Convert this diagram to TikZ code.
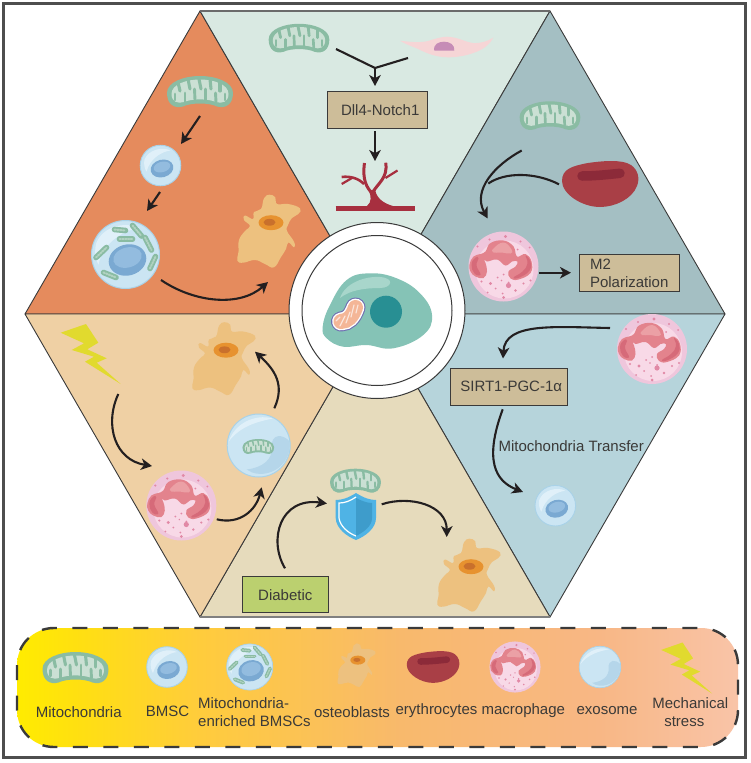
\documentclass[tikz,border=0pt]{standalone}
\usepackage{fontspec}
\setmainfont{Liberation Sans}
\usetikzlibrary{arrows.meta,calc}

\definecolor{inkline}{HTML}{231F20}
\definecolor{edgeline}{HTML}{3A3A3A}
\definecolor{textdark}{HTML}{3B3A38}
\definecolor{mitodark}{HTML}{8ABCA3}
\definecolor{mitopale}{HTML}{CBE0D4}
\definecolor{boxtan}{HTML}{CDBD99}
\definecolor{diabeticgreen}{HTML}{BBD06F}
\definecolor{bandA}{HTML}{FFEC00}
\definecolor{bandB}{HTML}{FFE010}
\definecolor{bandC}{HTML}{FFCC3C}
\definecolor{bandD}{HTML}{F8B96C}
\definecolor{bandE}{HTML}{F8B785}
\definecolor{bandF}{HTML}{F9C4A8}

\pgfdeclarehorizontalshading{legendband}{100bp}{
  color(0bp)=(bandA); color(25bp)=(bandA); color(29bp)=(bandB);
  color(37.7bp)=(bandC); color(51.6bp)=(bandD); color(65.4bp)=(bandE);
  color(75bp)=(bandF); color(100bp)=(bandF)}

\tikzset{
  x=1pt, y=-1pt,
  flow/.style={draw=inkline, line width=2.1pt,
    -{Stealth[length=11pt,width=11.5pt,inset=3.2pt]}},
  stem/.style={draw=inkline, line width=2.1pt},
  panel/.style={draw=edgeline, line width=0.9pt},
  labelbox/.style={draw=edgeline, line width=1pt, fill=boxtan, inner sep=0pt,
    text=textdark, font=\fontsize{15}{18}\selectfont},
  caption/.style={text=textdark, inner sep=0pt, align=center,
    font=\fontsize{15}{18}\selectfont},
  pics/mito/.style={code={
    \begin{scope}[scale=#1]
      \fill[mitodark] (-33,1) .. controls (-33,-10) and (-16,-16) .. (0,-16)
        .. controls (16,-16) and (33,-10) .. (33,1)
        .. controls (33,12) and (26,17) .. (17,14.5)
        .. controls (9,10.5) and (-9,10.5) .. (-17,14.5)
        .. controls (-26,17) and (-33,12) .. (-33,1) -- cycle;
      \fill[mitopale] (-28.5,2) .. controls (-28.5,-8) and (-13,-12.5) .. (0,-12.5)
        .. controls (13,-12.5) and (28.5,-8) .. (28.5,2)
        .. controls (28.5,10) and (22,12) .. (16,10)
        .. controls (8,6.5) and (-8,6.5) .. (-16,10)
        .. controls (-22,12) and (-28.5,10) .. (-28.5,2) -- cycle;
      % cristae folding in from both walls
      \foreach \ax/\ay/\bx/\by in {-22/-10/-20/-1, -12/-13/-10/-3, -1/-13/1/-3,
          10/-13/11/-3, 20/-10/20/-1}
        \draw[mitodark, line width=#1*3.1pt, line cap=round] (\ax,\ay) -- (\bx,\by);
      \foreach \ax/\ay/\bx/\by in {-25/8/-25/2, -15/10/-15/1, -5/8/-5.5/-3,
          5.5/8/5.5/-3, 16/10/15.5/1, 25/8/25/2}
        \draw[mitodark, line width=#1*2.9pt, line cap=round] (\ax,\ay) -- (\bx,\by);
    \end{scope}}},
  pics/bmsc/.style={code={
    \begin{scope}[scale=#1]
      \fill[color=bmscbase] (0,0) circle (20.3);
      \draw[color=bmscrim, line width=#1*.9pt] (0,0) circle (20.3);
      \fill[color=bmscpale] (-16,-6) .. controls (-12,-16) and (2,-19) .. (10,-15)
        .. controls (2,-14) and (-10,-8) .. (-14,6)
        .. controls (-16,3) and (-17,-2) .. (-16,-6) -- cycle;
      \fill[color=nucleusblue, rotate around={15:(1.5,3)}]
        (1.5,3) ellipse (11.5 and 8.8);
      \fill[color=nucleuslight, rotate around={15:(1.5,1.5)}]
        (1.5,1.5) ellipse (8.5 and 5.2);
    \end{scope}}},
  pics/richbmsc/.style={code={
    \begin{scope}[scale=#1]
      \fill[color=bmscbase] (0,0) circle (34);
      \draw[color=bmscrim, line width=#1*1pt] (0,0) circle (34);
      \fill[color=bmscpale] (-29,-12) .. controls (-22,-28) and (-2,-33) .. (14,-27)
        .. controls (0,-24) and (-22,-14) .. (-27,10)
        .. controls (-31,4) and (-31,-6) .. (-29,-12) -- cycle;
      \fill[color=nucleusblue, rotate around={15:(2,5.5)}]
        (2,5.5) ellipse (19 and 15.5);
      \fill[color=nucleuslight, rotate around={15:(2,3)}]
        (2,3) ellipse (14.5 and 10);
      \foreach \ax/\ay/\bx/\by in {-11/-25/0/-24, 7/-29/16/-18.5, -6/-15.5/7/-15.5,
          19.5/-17/26/-4.5, -29.5/3/-19/-7, 24.5/14/30/2, -22/18/-9.5/23} {
        \draw[mitodark, line width=#1*5.6pt, line cap=round] (\ax,\ay) -- (\bx,\by);
        \draw[mitopale!60!mitodark, line width=#1*2pt, line cap=round,
          dash pattern=on 1.4pt off 1.4pt] (\ax,\ay) -- (\bx,\by);
      }
    \end{scope}}},
  pics/osteo/.style={code={
    \begin{scope}[scale=#1]
      \fill[color=osteobody] plot[smooth cycle, tension=.75] coordinates {
        (1.3,-37.3) (7.3,-34.7) (9,-28) (20.3,-28) (32,-23.7) (30.3,-18)
        (24,-14) (20,-7) (19,-1) (26,9.7) (26,15.3) (20.3,10.5) (18,17)
        (13,25) (6,35.3) (-3,32) (-13,28) (-24.7,30.7) (-30.7,28.7)
        (-29.5,19.7) (-29,8) (-23,-1) (-18,-6) (-24,-12) (-23,-16.5)
        (-15,-13) (-14,-20) (-7,-23) (-4,-33.7)};
      \fill[color=osteonuc] (3,-9.3) ellipse (12.5 and 7.5);
      \fill[color=osteocore] (1.5,-9.7) ellipse (6 and 3.4);
    \end{scope}}},
  pics/rbc/.style={code={
    \begin{scope}[scale=#1]
      \fill[color=rbcbody] (-38,-3) .. controls (-38,-15) and (-28,-18) .. (-12,-21)
        .. controls (2,-23) and (22,-25) .. (31,-19)
        .. controls (38,-14) and (40,-6) .. (37,2)
        .. controls (32,15) and (15,23) .. (0,23)
        .. controls (-18,23) and (-38,10) .. (-38,-3) -- cycle;
      \draw[color=rbccore, line width=#1*9.5pt, line cap=round]
        (-18,-8) .. controls (-5,-8) and (8,-9.5) .. (20,-10.7);
    \end{scope}}},
  pics/macro/.style={code={
    \begin{scope}[scale=#1]
      \fill[color=macrobase] (0,0) circle (35);
      \fill[color=macropale] (1,3) circle (29);
      \fill[color=macronuc] plot[smooth cycle, tension=.7] coordinates {
        (-34,-2) (-30,-10) (-23,-12.5) (-18,-15) (-13,-23.5) (0,-26) (10,-20)
        (13.5,-10) (22,-12.5) (28,-5) (27,6.5) (15,13) (7,12) (5,5) (12,0)
        (14,-5) (8.5,-5) (2,-1) (-6.5,-7) (-16.5,-5) (-20,-8) (-18,-3.5)
        (-16.5,5) (-20,11.5) (-28,10) (-33,5)};
      \fill[color=macrolobe] plot[smooth cycle, tension=.8] coordinates {
        (-32,-2) (-28,-9) (-25,-8) (-27,-1) (-23,8) (-29,7)};
      \fill[color=macrolobe] plot[smooth cycle, tension=.8] coordinates {
        (22,-11) (27,-5) (26,4) (16,11) (10,11) (19,5) (24,-3)};
      \fill[color=macrotop] plot[smooth cycle, tension=.8] coordinates {
        (-10,-18) (0,-24) (8,-17) (7,-13) (-2,-14) (-10,-14)};
      \foreach \dx/\dy/\dr in {2/-30/1.6, -14/-27/1.2, 17/-25/1.2, -26/-20/1.2,
          26/-19/1, -22/15/1.2, -13/17/1.6, -6/11/1, 0/8/1, 5/16/1, 12/24/1.3,
          5/19/2.6, -8/22/1, -1/27/1, 0/31/1.5, -2/14/.8, 20/17/1.2, 27/14/1.2,
          -16/26/1, 14/-17/1}
        \fill[color=macrodot] (\dx,\dy) circle (\dr);
    \end{scope}}},
  pics/exo/.style={code={
    \begin{scope}[scale=#1]
      \fill[color=bmscbase] (0,0) circle (31.5);
      \fill[color=exoshade] (31,-4) .. controls (24,-12) and (12,-12) .. (13,2)
        .. controls (14,14) and (4,22) .. (-12,24)
        .. controls (0,33) and (22,28) .. (29,10)
        .. controls (31,5) and (31,0) .. (31,-4) -- cycle;
      \fill[color=bmscpale] (-30,-4) .. controls (-24,-22) and (-4,-32) .. (14,-27)
        .. controls (0,-24) and (-18,-20) .. (-30,-4) -- cycle;
      \draw[color=bmscrim, line width=#1*1pt] (0,0) circle (31.5);
    \end{scope}}},
  pics/bolt/.style={code={
    \begin{scope}[scale=#1]
      \fill[color=boltyellow] (-29.3,-21.3) -- (-4,-30) -- (8.3,-11.3) -- (-2.7,-4.7)
        -- (16.7,4.3) -- (6.7,8.7) -- (30.7,30) -- (-5,7.7) -- (4,2.7)
        -- (-18.3,-4) -- (-6,-10.7) -- cycle;
    \end{scope}}}
}

\definecolor{bmscbase}{HTML}{CBE5F3}
\definecolor{bmscrim}{HTML}{A9D2E8}
\definecolor{bmscpale}{HTML}{E0F0F9}
\definecolor{exoshade}{HTML}{B5D6EA}
\definecolor{nucleusblue}{HTML}{7AA9D2}
\definecolor{nucleuslight}{HTML}{93BCDF}
\definecolor{osteobody}{HTML}{EDC17F}
\definecolor{osteonuc}{HTML}{E7922F}
\definecolor{osteocore}{HTML}{C9702C}
\definecolor{rbcbody}{HTML}{A93F46}
\definecolor{rbccore}{HTML}{8C2A39}
\definecolor{macrobase}{HTML}{EFC6DC}
\definecolor{macropale}{HTML}{F8D9E7}
\definecolor{macronuc}{HTML}{E3838D}
\definecolor{macrolobe}{HTML}{D66A79}
\definecolor{macrotop}{HTML}{EBA0A5}
\definecolor{macrodot}{HTML}{E189A6}
\definecolor{boltyellow}{HTML}{E1DA2E}

\begin{document}
\begin{tikzpicture}
\useasboundingbox (0,0) rectangle (750,763);
\fill[white] (0,0) rectangle (750,763);
\draw[color=edgeline!90!white, line width=2.2pt] (3.5,3.5) rectangle (745.5,757.5);

% hexagon corners and hub
\coordinate (hub) at (375,314);
\coordinate (hTL) at (200,11);
\coordinate (hTR) at (550,11);
\coordinate (hR) at (725,314);
\coordinate (hBR) at (550,617);
\coordinate (hBL) at (200,617);
\coordinate (hL) at (25,314);

% six sectors
\definecolor{secA}{HTML}{E58B5D}
\definecolor{secB}{HTML}{D9E9E2}
\definecolor{secC}{HTML}{A4BFC3}
\definecolor{secD}{HTML}{B6D4DB}
\definecolor{secE}{HTML}{E6DBBC}
\definecolor{secF}{HTML}{EFD0A4}
\draw[panel, fill=secA, line join=round] (hL) -- (hTL) -- (hub) -- cycle;
\draw[panel, fill=secB, line join=round] (hTL) -- (hTR) -- (hub) -- cycle;
\draw[panel, fill=secC, line join=round] (hTR) -- (hR) -- (hub) -- cycle;
\draw[panel, fill=secD, line join=round] (hR) -- (hBR) -- (hub) -- cycle;
\draw[panel, fill=secE, line join=round] (hBR) -- (hBL) -- (hub) -- cycle;
\draw[panel, fill=secF, line join=round] (hBL) -- (hL) -- (hub) -- cycle;
\draw[color=black!58, line width=1.4pt] (hTL) -- (hTR);
\draw[color=black!50, line width=1.2pt] (hBL) -- (hBR);

% hub: cell with nucleus and mitochondrion
\draw[color=edgeline, line width=1pt, fill=white] (377,310.5) circle (88);
\draw[color=edgeline, line width=1pt, fill=white] (377,310.5) circle (75);
\definecolor{cellbody}{HTML}{85C3B6}
\definecolor{cellglow}{HTML}{A8D6CB}
\definecolor{cellnuc}{HTML}{288F93}
\definecolor{cellrim}{HTML}{6F6FB2}
\definecolor{cellmito}{HTML}{F4B697}
\fill[color=cellbody] plot[smooth cycle, tension=.7] coordinates {
  (322.7,326.7) (330,305) (346.7,280) (370,273.3) (396.7,278.3) (420,293.3)
  (432,315) (423.3,335) (393.3,348.3) (366.7,345) (343.3,346.7) (326.7,338.3)};
\fill[color=cellglow] (340,298) .. controls (345,283) and (365,276) .. (380,277)
  .. controls (395,278) and (392,288) .. (380,288)
  .. controls (365,288) and (350,290) .. (340,298) -- cycle;
\fill[color=cellnuc] (386,311.7) circle (16);
\draw[color=cellrim, line width=20pt, line cap=round]
  (341,321.5) .. controls (348,321) and (352,317) .. (355.5,307.5);
\draw[color=white, line width=17.8pt, line cap=round]
  (341,321.5) .. controls (348,321) and (352,317) .. (355.5,307.5);
\draw[color=cellmito, line width=15pt, line cap=round]
  (341,321.5) .. controls (348,321) and (352,317) .. (355.5,307.5);
\draw[color=white!65!cellmito, line width=1.2pt, line cap=round]
  (336,321) -- (340,317) (340,326) -- (345,316) (346,323) -- (350,312)
  (351,317) -- (354,305) (356,313) -- (358,305);

% upper left sector
\pic at (200,92) {mito=1};
\pic at (160.5,165.5) {bmsc=1};
\pic at (125.5,254.5) {richbmsc=1};
\pic at (268,232) {osteo=1};
\coordinate (a1s) at (200,116);
\coordinate (a1e) at (181,144);
\coordinate (a2s) at (160,192);
\coordinate (a2e) at (147,211);
\coordinate (a3s) at (161,280);
\coordinate (a3e) at (268,282);
\draw[flow] (a1s) -- (a1e);
\draw[flow] (a2s) -- (a2e);
\draw[flow] (a3s) .. controls (195,303) and (240,307) .. (a3e);

% top sector
\pic at (299,38.5) {mito=.92};
\definecolor{spindle}{HTML}{F6D5D6}
\definecolor{spindlenuc}{HTML}{C68CB6}
\fill[color=spindle] (400,40.7) .. controls (410,42) and (420,43) .. (428,41)
  .. controls (436,38.5) and (442,36.7) .. (447,36.7)
  .. controls (458,37) and (465,42) .. (473,43)
  .. controls (481,43.5) and (488,41) .. (493.3,37.7)
  .. controls (490,44) and (484,49) .. (476,52)
  .. controls (466,56) and (456,57.3) .. (448,57.3)
  .. controls (436,57.3) and (426,53) .. (417,48.5)
  .. controls (411,46) and (405,44) .. (400,40.7) -- cycle;
\fill[color=spindlenuc] (434.3,50.7) .. controls (433,44) and (439,41.7) .. (444,41.7)
  .. controls (450,41.7) and (455,45) .. (454.3,50.7) -- cycle;
\coordinate (y1) at (336,49);
\coordinate (y2) at (408,58);
\coordinate (yj) at (375,68);
\coordinate (ye) at (375,86);
\draw[stem] (y1) -- (yj);
\draw[stem] (y2) -- (yj);
\draw[flow] (yj) -- (ye);
\node[labelbox, minimum width=100pt, minimum height=37pt] (dll) at (377.7,109.8)
  {\hspace*{5pt}Dll4-Notch1};
\coordinate (vs) at (375,131);
\coordinate (ve) at (375,161);
\draw[flow] (vs) -- (ve);
% vessel tree
\definecolor{vessel}{HTML}{A72F3F}
\draw[color=vessel, line width=5pt] (335.7,208) -- (415,208);
\fill[color=vessel] (367,206) .. controls (372,202) and (371,196) .. (369,191)
  -- (375,189) .. controls (376,197) and (382,203) .. (393,206) -- cycle;
\draw[color=vessel, line width=3pt] (372,193) .. controls (367,188) and (362,180) .. (364.5,163);
\draw[color=vessel, line width=2.6pt] (364,184) .. controls (358,178) and (350,176) .. (341.7,177);
\draw[color=vessel, line width=2.2pt] (352,178) -- (341.7,184);
\draw[color=vessel, line width=3pt] (373,192) .. controls (378,183) and (388,178) .. (385.7,162.7);
\draw[color=vessel, line width=2.2pt] (385.5,178) -- (397.5,170.5);

% upper right sector
\pic at (550,116) {mito=.92};
\pic at (600,184) {rbc=1};
\pic at (503.5,266.5) {macro=1};
\coordinate (b1s) at (521.7,150.5);
\coordinate (b1e) at (487.7,218.5);
\coordinate (b2s) at (559,184.3);
\coordinate (b2e) at (488.3,183.5);
\coordinate (b3s) at (539,272.7);
\coordinate (b3e) at (571,272.7);
\draw[flow] (b1s) .. controls (495,165) and (472,190) .. (b1e);
\draw[stem] (b2s) .. controls (535,172) and (505,172) .. (b2e);
\draw[flow] (b3s) -- (b3e);
\node[labelbox, minimum width=100pt, minimum height=36.5pt, text width=78.6pt, align=left,
  inner xsep=10.7pt] (m2) at (629.3,272.9) {M2\\Polarization};

% lower right sector
\pic at (652,349) {macro=1};
\pic at (555.3,505.7) {bmsc=1};
\coordinate (c1s) at (610,328);
\coordinate (c1e) at (503,358.5);
\draw[flow] (c1s) .. controls (555,327) and (505,322) .. (c1e);
\node[labelbox, minimum width=117pt, minimum height=36.7pt] (sirt) at (509.2,386.7)
  {\hspace*{4pt}SIRT1-PGC-1α};
\coordinate (c2s) at (502.7,409.3);
\coordinate (c2e) at (523,492);
\draw[flow] (c2s) .. controls (484,460) and (495,481) .. (c2e);
\node[caption, anchor=west] (transfer) at (498.3,446) {Mitochondria Transfer};

% lower sector
\pic at (355.5,481) {mito=.77};
\definecolor{shieldA}{HTML}{4FB3E5}
\definecolor{shieldB}{HTML}{3E9CCB}
\fill[color=shieldA] (356,493) .. controls (348,498) and (342,500) .. (335.7,500)
  -- (335.7,518) .. controls (336,528) and (346,536) .. (356,540)
  .. controls (366,536) and (376,528) .. (376,518) -- (376,500)
  .. controls (370,500) and (364,498) .. (356,493) -- cycle;
\fill[color=shieldB] (356,498) .. controls (362,501) and (367,503) .. (372,503)
  -- (372,518) .. controls (372,526) and (364,532) .. (356,536) -- cycle;
\draw[color=white, line width=1.2pt] (356,497) .. controls (350,501) and (345,503) .. (339,503)
  -- (339,518) .. controls (340,526) and (348,533) .. (356,536);
\pic at (468,576) {osteo=1};
\coordinate (d1s) at (285,568.3);
\coordinate (d1e) at (327,503.5);
\coordinate (d2s) at (381.7,504.3);
\coordinate (d2e) at (446.7,537);
\draw[flow] (d1s) .. controls (268,540) and (280,497) .. (d1e);
\draw[flow] (d2s) .. controls (410,495) and (447,505) .. (d2e);
\node[labelbox, fill=diabeticgreen, minimum width=86pt, minimum height=36pt] (diab)
  at (285.3,594.7) {Diabetic};

% left sector
\pic at (90,354) {bolt=1};
\pic at (181.3,505.5) {macro=1};
\pic at (258.7,445.5) {exo=1};
\pic at (258.3,446.7) {mito=.48};
\pic at (223,359.5) {osteo=1};
\coordinate (e1s) at (118.3,394);
\coordinate (e1e) at (152,466);
\coordinate (e2s) at (216.7,519.3);
\coordinate (e2e) at (261.7,487.3);
\coordinate (e3s) at (274.3,408.3);
\coordinate (e3e) at (255,351.7);
\draw[flow] (e1s) .. controls (104,425) and (115,460) .. (e1e);
\draw[flow] (e2s) .. controls (240,525) and (256,510) .. (e2e);
\draw[flow] (e3s) .. controls (285,385) and (275,370) .. (e3e);

% legend band
\shade[shading=legendband, rounded corners=37pt] (17,628) rectangle (738,747);
\draw[color=edgeline, line width=2.4pt, dash pattern=on 15pt off 15.5pt,
  rounded corners=37pt] (17,628) rectangle (738,747);
\pic at (75.5,668) {mito=1};
\pic at (167,667) {bmsc=1};
\pic at (249.7,667) {richbmsc=.68};
\pic at (356,665.7) {osteo=.6};
\pic at (433,667) {rbc=.69};
\pic at (515,667) {macro=.73};
\pic at (600,667) {exo=.66};
\pic at (686,668) {bolt=.85};
\node[caption] (lgA) at (78.7,711.7) {Mitochondria};
\node[caption] (lgB) at (167.5,711.7) {BMSC};
\node[caption, anchor=west, align=left] (lgC) at (198,711.8) {Mitochondria-\\enriched BMSCs};
\node[caption] (lgD) at (352,712) {osteoblasts};
\node[caption] (lgE) at (436.5,710.7) {erythrocytes};
\node[caption] (lgF) at (523.3,710.7) {macrophage};
\node[caption] (lgG) at (607,710.7) {exosome};
\node[caption] (lgH) at (690.3,711.8) {Mechanical\\stress\hspace*{12pt}};
\end{tikzpicture}
\end{document}
